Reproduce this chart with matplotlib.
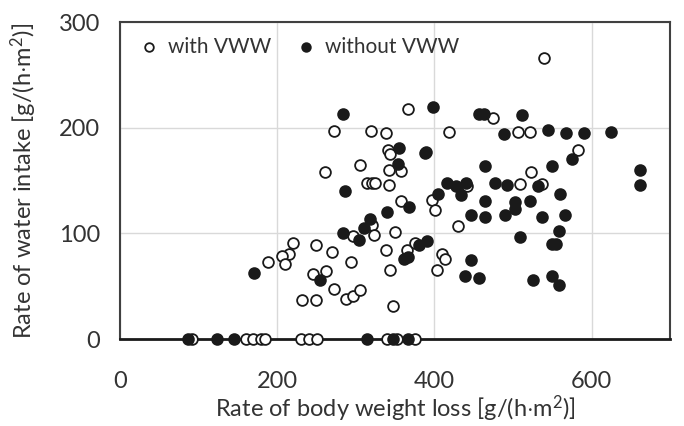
import matplotlib
matplotlib.use("Agg")
import matplotlib.pyplot as plt

plt.rcParams['font.family'] = ['Lato', 'DejaVu Sans']
plt.rcParams['mathtext.fontset'] = 'custom'
plt.rcParams['mathtext.rm'] = 'Lato'
plt.rcParams['mathtext.it'] = 'Lato:italic'

# with VWW (open circles)
with_x = [540, 366, 272, 319, 338, 419, 474, 506, 522, 582, 523, 509, 537, 441,
          261, 305, 341, 343, 390, 342, 357, 314, 321, 325, 342, 357, 397, 401,
          321, 297, 323, 350, 338, 365, 376, 410, 414, 403, 430,
          220, 215, 206, 210, 189, 250, 270, 294, 246, 262, 273, 288, 297, 306,
          232, 249, 344, 348,
          92, 161, 169, 179, 185, 231, 241, 251, 340, 352, 376]
with_y = [266, 218, 197, 197, 195, 196, 209, 196, 196, 179, 158, 147, 147, 145,
          158, 165, 179, 175, 177, 160, 159, 148, 148, 148, 146, 131, 132, 122,
          108, 98, 99, 101, 84, 84, 91, 81, 76, 65, 107,
          91, 81, 79, 71, 73, 89, 82, 73, 62, 64, 47, 38, 41, 46,
          37, 37, 65, 31,
          0, 0, 0, 0, 0, 0, 0, 0, 0, 0, 0]

# without VWW (filled circles)
without_x = [284, 398, 457, 463, 512, 489, 545, 568, 590, 624, 575, 550, 465,
             355, 388, 354, 286, 368, 340, 318, 310, 284, 304, 405,
             416, 427, 440, 434, 477, 492, 532, 465, 503, 503, 522, 560,
             447, 464, 490, 537, 566, 509, 559, 549, 555,
             446, 439, 457, 525, 549, 558, 661, 661, 381, 391, 366, 362,
             255, 171,
             87, 124, 145, 314, 348, 366]
without_y = [213, 220, 213, 213, 212, 194, 198, 195, 195, 196, 170, 164, 164,
             181, 176, 166, 140, 125, 120, 114, 105, 100, 94, 137,
             148, 145, 148, 136, 148, 146, 145, 131, 130, 123, 131, 137,
             117, 116, 117, 116, 117, 97, 102, 90, 90,
             75, 60, 58, 56, 60, 51, 160, 146, 89, 93, 78, 76,
             56, 63,
             0, 0, 0, 0, 0, 0]

x_ticks = [0, 200, 400, 600]
y_ticks = [0, 100, 200, 300]

fig = plt.figure(figsize=(6.84, 4.26), dpi=100)
ax = fig.add_axes([0.175, 0.204, 0.805, 0.744])

ax.scatter(with_x, with_y, s=60, facecolors='white', edgecolors='#1a1a1a',
           linewidths=1.3, clip_on=False, zorder=3, label='with VWW')
ax.scatter(without_x, without_y, s=60, facecolors='#1a1a1a', edgecolors='#1a1a1a',
           linewidths=1.3, clip_on=False, zorder=3, label='without VWW')

ax.set_xlim(0, 700)
ax.set_ylim(0, 300)
ax.set_xticks(x_ticks)
ax.set_yticks(y_ticks)
ax.grid(True, color='#d9d9d9', linewidth=1)
ax.set_axisbelow(True)
ax.tick_params(axis='both', length=0, labelsize=17, colors='#333333')
ax.tick_params(axis='x', pad=23)
ax.tick_params(axis='y', pad=14)
for s in ax.spines.values():
    s.set_color('#404040')
    s.set_linewidth(1.5)
ax.spines['bottom'].set_color('#1a1a1a')
ax.spines['bottom'].set_linewidth(2)

ax.set_xlabel(r'Rate of body weight loss [g/(h$\cdot$m$^{2}$)]', fontsize=17,
              color='#333333', labelpad=1)
ax.set_ylabel(r'Rate of water intake [g/(h$\cdot$m$^{2}$)]', fontsize=17,
              color='#333333', labelpad=14)

leg = ax.legend(loc='upper left', ncol=2, frameon=False, fontsize=15,
                markerscale=0.8, handletextpad=0.2, columnspacing=1.0,
                borderaxespad=0.3, handlelength=1.4, bbox_to_anchor=(0.0, 1.0))
for t in leg.get_texts():
    t.set_color('#333333')

fig.savefig('out.png', dpi=100)
